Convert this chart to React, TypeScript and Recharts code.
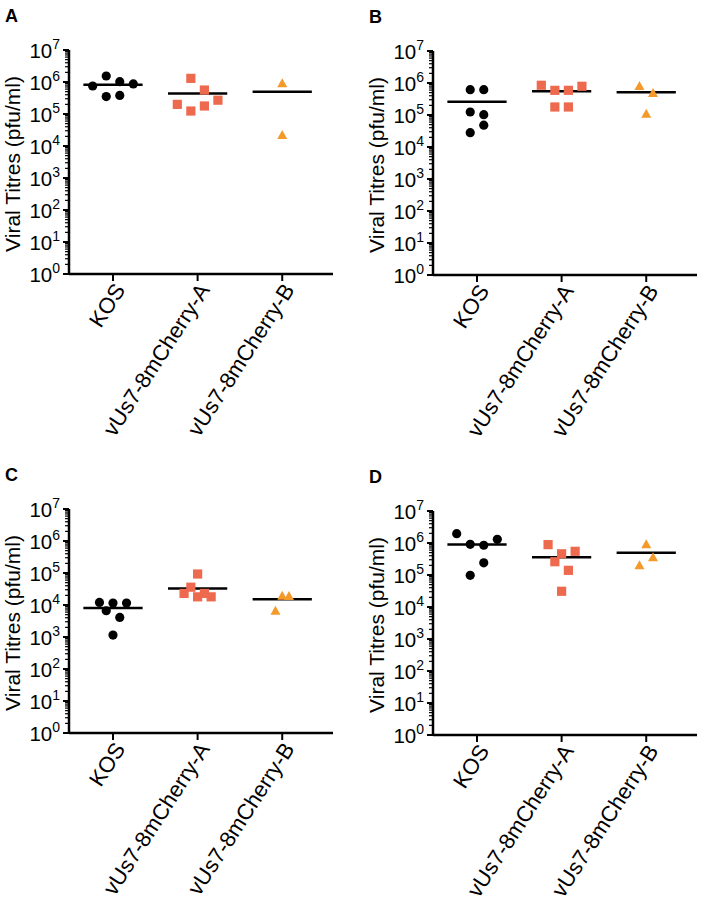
import { ScatterChart, Scatter, XAxis, YAxis, ReferenceLine } from "recharts"

const groups = ["KOS", "vUs7-8mCherry-A", "vUs7-8mCherry-B"]
const decades = [1, 10, 100, 1000, 10000, 100000, 1000000, 10000000]

// x = group index + horizontal jitter as drawn, y = titre (pfu/ml)
// Panel A
const kosA = [
  { x: -0.24, y: 7.5e5 }, { x: -0.08, y: 1.54e6 }, { x: 0.08, y: 1.02e6 },
  { x: 0.24, y: 8.7e5 }, { x: -0.08, y: 3.5e5 }, { x: 0.08, y: 3.8e5 },
]
const vusA_A = [
  { x: 0.92, y: 1.3e6 }, { x: 1.08, y: 5.6e5 }, { x: 0.76, y: 2.0e5 },
  { x: 1.24, y: 2.7e5 }, { x: 0.92, y: 1.24e5 }, { x: 1.08, y: 1.78e5 },
]
const vusB_A = [{ x: 2, y: 9.1e5 }, { x: 2, y: 2.2e4 }]
const meansA = [8.2e5, 4.4e5, 5.0e5]

// Panel B
const kosB = [
  { x: -0.08, y: 6.2e5 }, { x: 0.08, y: 6.2e5 }, { x: -0.08, y: 1.24e5 },
  { x: 0.08, y: 1.02e5 }, { x: 0.08, y: 4.8e4 }, { x: -0.08, y: 2.8e4 },
]
const vusA_B = [
  { x: 0.76, y: 8.5e5 }, { x: 0.92, y: 5.9e5 }, { x: 1.08, y: 5.9e5 },
  { x: 1.24, y: 7.9e5 }, { x: 0.92, y: 1.78e5 }, { x: 1.08, y: 1.78e5 },
]
const vusB_B = [{ x: 1.92, y: 8.1e5 }, { x: 2.08, y: 4.9e5 }, { x: 2, y: 1.1e5 }]
const meansB = [2.6e5, 5.5e5, 5.1e5]

// Panel C
const kosC = [
  { x: -0.16, y: 1.2e4 }, { x: 0, y: 1.15e4 }, { x: 0.16, y: 1.15e4 },
  { x: -0.08, y: 6.6e3 }, { x: 0.08, y: 4.1e3 }, { x: 0, y: 1.15e3 },
]
const vusA_C = [
  { x: 1, y: 9.3e4 }, { x: 0.92, y: 3.6e4 }, { x: 0.84, y: 2.3e4 },
  { x: 1, y: 1.8e4 }, { x: 1.08, y: 2.3e4 }, { x: 1.16, y: 1.8e4 },
]
const vusB_C = [{ x: 2, y: 1.95e4 }, { x: 2.08, y: 1.9e4 }, { x: 1.92, y: 6.6e3 }]
const meansC = [8.1e3, 3.3e4, 1.5e4]

// Panel D
const kosD = [
  { x: -0.24, y: 1.95e6 }, { x: -0.08, y: 9.1e5 }, { x: 0.08, y: 8.5e5 },
  { x: 0.24, y: 1.3e6 }, { x: 0.08, y: 2.4e5 }, { x: -0.08, y: 9.8e4 },
]
const vusA_D = [
  { x: 0.84, y: 8.9e5 }, { x: 1, y: 4.6e5 }, { x: 1.16, y: 5.5e5 },
  { x: 0.92, y: 2.6e5 }, { x: 1.08, y: 1.4e5 }, { x: 1, y: 3.1e4 },
]
const vusB_D = [{ x: 2, y: 9.1e5 }, { x: 2.08, y: 3.6e5 }, { x: 1.92, y: 2.0e5 }]
const meansD = [8.9e5, 3.6e5, 5.0e5]

const panels = [
  { letter: "A", left: 0, top: 0, kos: kosA, vA: vusA_A, vB: vusB_A, means: meansA },
  { letter: "B", left: 364, top: 1, kos: kosB, vA: vusA_B, vB: vusB_B, means: meansB },
  { letter: "C", left: 0, top: 459, kos: kosC, vA: vusA_C, vB: vusB_C, means: meansC },
  { letter: "D", left: 364, top: 461, kos: kosD, vA: vusA_D, vB: vusB_D, means: meansD },
]

const FONT = "'Liberation Sans', Arial, Helvetica, sans-serif"
const SQUARE_COLOR = "#EE6A4F"
const TRI_COLOR = "#F49A2A"

// major decades plus the 2..9 minor ticks in between
const yTicks = decades.flatMap((d, i) =>
  i === decades.length - 1 ? [d] : [d, ...[2, 3, 4, 5, 6, 7, 8, 9].map((m) => m * d)]
)

const YTick = ({ x, y, payload }: any) => {
  const exp = Math.log10(payload.value)
  const major = Math.abs(exp - Math.round(exp)) < 1e-6
  return (
    <g>
      <line x1={x - (major ? 6 : 4)} x2={x} y1={y} y2={y} stroke="#000" strokeWidth={major ? 2 : 1.2} />
      {major && (
        <text x={x - 9} y={y} dy={7.7} textAnchor="end" fontSize={20.5} fill="#000" fontFamily={FONT}>
          10
          <tspan fontSize={14} dy={-8.4}>
            {Math.round(exp)}
          </tspan>
        </text>
      )}
    </g>
  )
}

const XTick = ({ x, y, payload }: any) => {
  const ax = x + 13
  const ay = y + 7
  return (
    <text x={ax} y={ay} transform={`rotate(-57, ${ax}, ${ay})`} textAnchor="end" fontSize={22} fill="#000" fontFamily={FONT}>
      {groups[payload.value]}
    </text>
  )
}

const Dot = (p: any) => <circle cx={p.cx} cy={p.cy} r={4.6} fill="#000" />
const Square = (p: any) => <rect x={p.cx - 4.6} y={p.cy - 4.6} width={9.2} height={9.2} fill={SQUARE_COLOR} />
const Tri = (p: any) => (
  <path d={`M${p.cx},${p.cy - 5} L${p.cx + 5},${p.cy + 4} L${p.cx - 5},${p.cy + 4} Z`} fill={TRI_COLOR} />
)

function Panel({ letter, left, top, kos, vA, vB, means }: any) {
  return (
    <div style={{ position: "absolute", left, top, width: 350, height: 440 }}>
      <ScatterChart width={350} height={440} margin={{ top: 50, right: 17, bottom: 0, left: 0 }}>
        <XAxis
          type="number"
          dataKey="x"
          domain={[-0.52, 2.6]}
          ticks={[0, 1, 2]}
          interval={0}
          height={166}
          axisLine={{ stroke: "#000", strokeWidth: 2.5 }}
          tickLine={{ stroke: "#000", strokeWidth: 2 }}
          tickSize={7}
          tickMargin={2}
          tick={<XTick />}
        />
        <YAxis
          type="number"
          dataKey="y"
          scale="log"
          domain={[1, 10000000]}
          ticks={yTicks}
          interval={0}
          width={69}
          axisLine={{ stroke: "#000", strokeWidth: 2.5 }}
          tickLine={false}
          tickSize={0}
          tickMargin={0}
          tick={<YTick />}
        />
        <Scatter data={kos} shape={Dot} isAnimationActive={false} />
        <Scatter data={vA} shape={Square} isAnimationActive={false} />
        <Scatter data={vB} shape={Tri} isAnimationActive={false} />
        {means.map((m: number, i: number) => (
          <ReferenceLine
            key={i}
            segment={[{ x: i - 0.35, y: m }, { x: i + 0.35, y: m }]}
            stroke="#000"
            strokeWidth={2.5}
          />
        ))}
      </ScatterChart>
      <svg width={350} height={440} style={{ position: "absolute", left: 0, top: 0, pointerEvents: "none" }}>
        <text x={5} y={22} fontSize={18} fontWeight="bold" fill="#000" fontFamily={FONT}>
          {letter}
        </text>
        <text
          transform="translate(19.5,164) rotate(-90)"
          textAnchor="middle"
          fontSize={21}
          fill="#000"
          fontFamily={FONT}
        >
          Viral Titres (pfu/ml)
        </text>
      </svg>
    </div>
  )
}

export default function App() {
  return (
    <div style={{ position: "absolute", left: 0, top: 0, width: 703, height: 903, background: "#fff", fontFamily: FONT }}>
      {panels.map((p) => (
        <Panel key={p.letter} {...p} />
      ))}
    </div>
  )
}
